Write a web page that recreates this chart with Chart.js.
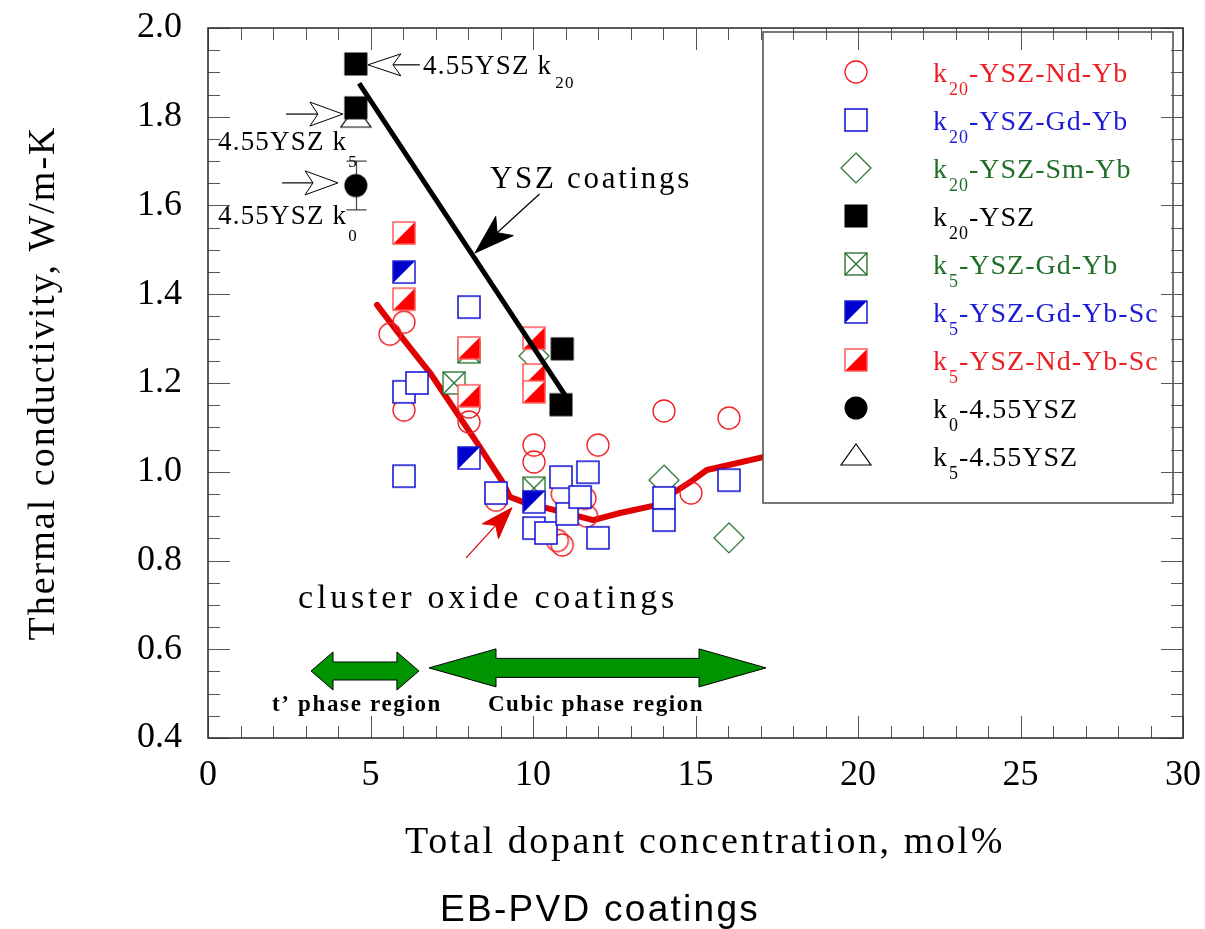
<!DOCTYPE html>
<html>
<head>
<meta charset="utf-8">
<script src="https://cdn.jsdelivr.net/npm/chart.js@4/dist/chart.umd.min.js"></script>
<style>
  html, body { margin: 0; padding: 0; background: #fff; }
  canvas { display: block; }
</style>
</head>
<body>
<canvas id="chart" width="1205" height="929"></canvas>
<script>
// ---- data ----
const ndYbX = [5.6, 6.03, 6.03, 8.03, 8.03, 8.86, 10.03, 10.03, 10.75, 10.9, 10.9, 11.6, 11.65, 12.0, 14.03, 16.03, 14.86];
const ndYbY = [1.31, 1.337, 1.139, 1.146, 1.112, 0.936, 1.06, 1.022, 0.845, 0.835, 0.95, 0.94, 0.90, 1.06, 1.137, 1.121, 0.952];

const gdYbX = [6.03, 6.43, 6.03, 8.03, 8.86, 10.03, 10.4, 10.86, 11.69, 11.05, 11.45, 12.0, 14.03, 14.03, 16.03];
const gdYbY = [1.18, 1.20, 0.99, 1.371, 0.952, 0.873, 0.862, 0.988, 0.999, 0.905, 0.943, 0.851, 0.941, 0.891, 0.981];

const smYbX = [10.03, 14.03, 16.03];
const smYbY = [1.261, 0.981, 0.851];

const yszX = [4.55, 4.55, 10.9, 10.86];
const yszY = [1.919, 1.82, 1.277, 1.151];

const k5GdYbX = [8.03, 7.57, 10.03];
const k5GdYbY = [1.27, 1.20, 0.963];

const k5GdYbScX = [6.03, 8.03, 10.03];
const k5GdYbScY = [1.45, 1.031, 0.932];

const k5NdYbScX = [6.03, 6.03, 8.03, 8.03, 10.03, 10.03, 10.03];
const k5NdYbScY = [1.538, 1.389, 1.279, 1.171, 1.301, 1.218, 1.18];

const k0X = [4.55];
const k0Y = [1.645];
const k0Err = [0.055];

const k5X = [4.55];
const k5Y = [1.797];

// trend lines
const clusterX = [5.2, 5.91, 6.83, 7.6, 8.28, 9.08, 9.29, 9.69, 11.85, 12.68, 13.69, 14.92, 15.35, 17.08];
const clusterY = [1.376, 1.308, 1.223, 1.139, 1.065, 0.975, 0.943, 0.932, 0.891, 0.907, 0.923, 0.981, 1.004, 1.033];
const yszLineX = [4.65, 10.98];
const yszLineY = [1.875, 1.173];

const xTicks = [0, 5, 10, 15, 20, 25, 30];
const yTicks = [0.4, 0.6, 0.8, 1.0, 1.2, 1.4, 1.6, 1.8, 2.0];

// ---- styling ----
const RED = '#ee1d23';
const RED_EDGE = '#ff5a5a';
const BLUE = '#1b1bd6';
const GREEN = '#1f6f2b';
const SERIF = '"Liberation Serif", "Times New Roman", serif';

const pts = (xs, ys) => xs.map((x, i) => ({ x: x, y: ys[i] }));

function marker(draw) {
    const c = document.createElement('canvas');
    c.width = 34;
    c.height = 34;
    const g = c.getContext('2d');
    g.translate(17, 17);
    draw(g);
    return c;
}

const mkCircle = marker(g => {
    g.beginPath(); g.arc(0, 0, 11, 0, Math.PI * 2);
    g.strokeStyle = RED; g.lineWidth = 1.3; g.stroke();
});
const mkSquare = marker(g => {
    g.fillStyle = '#fff'; g.fillRect(-11, -11, 22, 22);
    g.strokeStyle = BLUE; g.lineWidth = 1.6; g.strokeRect(-11, -11, 22, 22);
});
const mkDiamond = marker(g => {
    g.beginPath(); g.moveTo(0, -15); g.lineTo(15, 0); g.lineTo(0, 15); g.lineTo(-15, 0); g.closePath();
    g.fillStyle = '#fff'; g.fill();
    g.strokeStyle = GREEN; g.lineWidth = 1.2; g.stroke();
});
const mkFilledSq = marker(g => {
    g.fillStyle = '#000'; g.fillRect(-11.5, -11.5, 23, 23);
});
const mkCrossed = marker(g => {
    g.fillStyle = '#fff'; g.fillRect(-11, -11, 22, 22);
    g.strokeStyle = GREEN; g.lineWidth = 1.3;
    g.strokeRect(-11, -11, 22, 22);
    g.beginPath(); g.moveTo(-11, -11); g.lineTo(11, 11); g.moveTo(11, -11); g.lineTo(-11, 11); g.stroke();
});
const mkBlueHalf = marker(g => {
    g.fillStyle = '#fff'; g.fillRect(-11, -11, 22, 22);
    g.beginPath(); g.moveTo(-11, -11); g.lineTo(11, -11); g.lineTo(-11, 11); g.closePath();
    g.fillStyle = '#0000cc'; g.fill();
    g.strokeStyle = BLUE; g.lineWidth = 1.5; g.strokeRect(-11, -11, 22, 22);
});
const mkRedHalf = marker(g => {
    g.fillStyle = '#fff'; g.fillRect(-11, -11, 22, 22);
    g.beginPath(); g.moveTo(11, -11); g.lineTo(11, 11); g.lineTo(-11, 11); g.closePath();
    g.fillStyle = '#ff0000'; g.fill();
    g.strokeStyle = RED_EDGE; g.lineWidth = 1.5; g.strokeRect(-11, -11, 22, 22);
});
const mkDot = marker(g => {
    g.beginPath(); g.arc(0, 0, 11.5, 0, Math.PI * 2);
    g.fillStyle = '#000'; g.fill();
});
const mkTriangle = marker(g => {
    g.beginPath(); g.moveTo(0, -12); g.lineTo(15, 9); g.lineTo(-15, 9); g.closePath();
    g.fillStyle = '#fff'; g.fill();
    g.strokeStyle = '#000'; g.lineWidth = 1.2; g.stroke();
});

function scatterSet(label, xs, ys, style, color, order) {
    return {
        label: label,
        data: pts(xs, ys),
        pointStyle: style,
        pointRadius: 10,
        borderColor: color,
        backgroundColor: color,
        showLine: false,
        order: order
    };
}

const datasets = [
    scatterSet('k20-YSZ-Nd-Yb', ndYbX, ndYbY, mkCircle, RED, 7),
    scatterSet('k20-YSZ-Gd-Yb', gdYbX, gdYbY, mkSquare, BLUE, 5),
    scatterSet('k20-YSZ-Sm-Yb', smYbX, smYbY, mkDiamond, GREEN, 6),
    scatterSet('k20-YSZ', yszX, yszY, mkFilledSq, '#000', 0),
    scatterSet('k5-YSZ-Gd-Yb', k5GdYbX, k5GdYbY, mkCrossed, GREEN, 4),
    scatterSet('k5-YSZ-Gd-Yb-Sc', k5GdYbScX, k5GdYbScY, mkBlueHalf, BLUE, 2),
    scatterSet('k5-YSZ-Nd-Yb-Sc', k5NdYbScX, k5NdYbScY, mkRedHalf, RED, 3),
    scatterSet('k0-4.55YSZ', k0X, k0Y, mkDot, '#000', 1),
    scatterSet('k5-4.55YSZ', k5X, k5Y, mkTriangle, '#000', 0),
    {
        label: 'cluster trend',
        data: pts(clusterX, clusterY),
        showLine: true, pointRadius: 0,
        borderColor: '#e00000', borderWidth: 6,
        borderCapStyle: 'round', borderJoinStyle: 'round',
        order: 9
    },
    {
        label: 'YSZ trend',
        data: pts(yszLineX, yszLineY),
        showLine: true, pointRadius: 0,
        borderColor: '#000', borderWidth: 5,
        order: 1
    }
];
const legendSets = datasets.slice(0, 9);

// ---- drawing helpers ----
function spacedText(ctx, str, x, y, font, color, target, align) {
    ctx.save();
    ctx.font = font;
    ctx.fillStyle = color;
    ctx.textBaseline = 'alphabetic';
    ctx.textAlign = 'left';
    ctx.letterSpacing = '0px';
    const w = ctx.measureText(str).width;
    if (target) ctx.letterSpacing = ((target - w) / str.length).toFixed(2) + 'px';
    const width = target || w;
    const x0 = align === 'center' ? x - width / 2 : x;
    ctx.fillText(str, x0, y);
    ctx.restore();
}

// main text, then a lowered subscript, then the rest
function subText(ctx, x, y, main, sub, rest, size, subSize, dy, gap, color, spacing) {
    ctx.save();
    ctx.fillStyle = color;
    ctx.textBaseline = 'alphabetic';
    ctx.textAlign = 'left';
    ctx.letterSpacing = spacing + 'px';
    ctx.font = size + 'px ' + SERIF;
    ctx.fillText(main, x, y);
    x += ctx.measureText(main).width + gap;
    ctx.font = subSize + 'px ' + SERIF;
    ctx.fillText(sub, x, y + dy);
    x += ctx.measureText(sub).width;
    if (rest) {
        ctx.font = size + 'px ' + SERIF;
        ctx.fillText(rest, x, y);
    }
    ctx.restore();
}

function arrowHead(ctx, tail, tip, len, half, notch, fill, stroke) {
    const dx = tip[0] - tail[0], dy = tip[1] - tail[1];
    const d = Math.hypot(dx, dy);
    const ux = dx / d, uy = dy / d, nx = -uy, ny = ux;
    const bx = tip[0] - ux * len, by = tip[1] - uy * len;
    const mx = tip[0] - ux * (len - notch), my = tip[1] - uy * (len - notch);
    ctx.beginPath();
    ctx.moveTo(tail[0], tail[1]);
    ctx.lineTo(mx, my);
    ctx.strokeStyle = stroke; ctx.lineWidth = 1.2; ctx.stroke();
    ctx.beginPath();
    ctx.moveTo(tip[0], tip[1]);
    ctx.lineTo(bx + nx * half, by + ny * half);
    ctx.lineTo(mx, my);
    ctx.lineTo(bx - nx * half, by - ny * half);
    ctx.closePath();
    ctx.fillStyle = fill; ctx.fill();
    ctx.strokeStyle = stroke; ctx.lineWidth = 1; ctx.stroke();
}

function doubleArrow(ctx, x1, x2, cy, shaft, head, len) {
    ctx.beginPath();
    ctx.moveTo(x1, cy);
    ctx.lineTo(x1 + len, cy - head);
    ctx.lineTo(x1 + len, cy - shaft);
    ctx.lineTo(x2 - len, cy - shaft);
    ctx.lineTo(x2 - len, cy - head);
    ctx.lineTo(x2, cy);
    ctx.lineTo(x2 - len, cy + head);
    ctx.lineTo(x2 - len, cy + shaft);
    ctx.lineTo(x1 + len, cy + shaft);
    ctx.lineTo(x1 + len, cy + head);
    ctx.closePath();
    ctx.fillStyle = '#009400'; ctx.fill();
    ctx.strokeStyle = '#000'; ctx.lineWidth = 1; ctx.stroke();
}

const decor = {
    id: 'decor',
    beforeDatasetsDraw(chart) {
        const ctx = chart.ctx, xs = chart.scales.x, ys = chart.scales.y;
        ctx.save();
        ctx.strokeStyle = '#444'; ctx.lineWidth = 1.2;
        k0X.forEach((x, i) => {
            const px = Math.round(xs.getPixelForValue(x)) + 0.5;
            const t = ys.getPixelForValue(k0Y[i] + k0Err[i]);
            const b = ys.getPixelForValue(k0Y[i] - k0Err[i]);
            ctx.beginPath();
            ctx.moveTo(px, t); ctx.lineTo(px, b);
            ctx.moveTo(px - 10, t); ctx.lineTo(px + 10, t);
            ctx.moveTo(px - 10, b); ctx.lineTo(px + 10, b);
            ctx.stroke();
        });
        ctx.restore();
    },
    afterDatasetsDraw(chart) {
        const ctx = chart.ctx, xs = chart.scales.x, ys = chart.scales.y;
        const P = (x, y) => [xs.getPixelForValue(x), ys.getPixelForValue(y)];
        ctx.save();

        // annotations
        arrowHead(ctx, P(6.52, 1.917), P(4.92, 1.917), 33, 11, 8, '#fff', '#000');
        arrowHead(ctx, P(2.40, 1.806), P(4.15, 1.806), 33, 12, 8, '#fff', '#000');
        arrowHead(ctx, P(2.28, 1.651), P(4.00, 1.651), 33, 12, 8, '#fff', '#000');
        arrowHead(ctx, P(10.2, 1.626), P(8.215, 1.493), 40, 13, 10, '#000', '#000');
        arrowHead(ctx, P(7.94, 0.806), P(9.354, 0.919), 32, 11, 8, '#e00000', '#e00000');

        let p = P(6.615, 1.896);
        subText(ctx, p[0], p[1], '4.55YSZ k', '20', '', 27, 17, 14, 3, '#000', 1.2);
        p = P(0.308, 1.725);
        subText(ctx, p[0], p[1], '4.55YSZ k', '5', '', 27, 17, 17, 1, '#000', 1.2);
        p = P(0.308, 1.558);
        subText(ctx, p[0], p[1], '4.55YSZ k', '0', '', 27, 17, 17, 1, '#000', 1.2);

        p = P(8.677, 1.639);
        spacedText(ctx, 'YSZ coatings', p[0], p[1], '31px ' + SERIF, '#000', 202);
        p = P(2.77, 0.693);
        spacedText(ctx, 'cluster oxide coatings', p[0], p[1], '34px ' + SERIF, '#000', 380);

        const a1 = P(3.17, 0.551), a2 = P(6.49, 0.551);
        doubleArrow(ctx, a1[0], a2[0], a1[1], 9, 19, 22);
        const b1 = P(6.8, 0.558), b2 = P(17.17, 0.558);
        doubleArrow(ctx, b1[0], b2[0], b1[1], 9.5, 19, 67);

        p = P(1.97, 0.461);
        spacedText(ctx, 't\u2019 phase region', p[0], p[1], 'bold 23px ' + SERIF, '#000', 170);
        p = P(8.615, 0.461);
        spacedText(ctx, 'Cubic phase region', p[0], p[1], 'bold 23px ' + SERIF, '#000', 216);

        // legend box
        ctx.fillStyle = '#fff';
        ctx.fillRect(763, 32, 410, 471);
        ctx.strokeStyle = '#555'; ctx.lineWidth = 1.6;
        ctx.strokeRect(763, 32, 410, 471);
        legendSets.forEach((ds, i) => {
            const cy = 72 + i * 48;
            const img = ds.pointStyle;
            ctx.drawImage(img, 856 - img.width / 2, cy - img.height / 2);
            const m = ds.label.match(/^k(\d+)(.*)$/);
            subText(ctx, 933, cy + 10, 'k', m[1], m[2], 28, 18, 13, 1, ds.borderColor, 1);
        });
        ctx.restore();
    },
    afterDraw(chart) {
        const ctx = chart.ctx, a = chart.chartArea, xs = chart.scales.x, ys = chart.scales.y;
        ctx.save();
        // ticks, inward on all four sides
        ctx.strokeStyle = '#555'; ctx.lineWidth = 1;
        ctx.beginPath();
        for (let v = 0; v <= 30; v += 1) {
            const px = Math.round(xs.getPixelForValue(v)) + 0.5;
            const len = v % 5 === 0 ? 22 : 12;
            ctx.moveTo(px, a.bottom); ctx.lineTo(px, a.bottom - len);
            ctx.moveTo(px, a.top); ctx.lineTo(px, a.top + len);
        }
        for (let k = 0; k <= 32; k++) {
            const v = 0.4 + k * 0.05;
            const py = Math.round(ys.getPixelForValue(v)) + 0.5;
            const len = k % 4 === 0 ? 22 : 12;
            ctx.moveTo(a.left, py); ctx.lineTo(a.left + len, py);
            ctx.moveTo(a.right, py); ctx.lineTo(a.right - len, py);
        }
        ctx.stroke();
        ctx.strokeStyle = '#333'; ctx.lineWidth = 1.6;
        ctx.strokeRect(a.left, a.top, a.right - a.left, a.bottom - a.top);

        // axis titles
        spacedText(ctx, 'Total dopant concentration, mol%', 705, 853, '38px ' + SERIF, '#000', 600, 'center');
        spacedText(ctx, 'EB-PVD coatings', 600, 921, '37px "Liberation Sans", Arial, sans-serif', '#000', 320, 'center');
        ctx.translate(54, 383);
        ctx.rotate(-Math.PI / 2);
        spacedText(ctx, 'Thermal conductivity, W/m-K', 0, 0, '38px ' + SERIF, '#000', 515, 'center');
        ctx.restore();
    }
};

new Chart(document.getElementById('chart').getContext('2d'), {
    type: 'scatter',
    data: { datasets: datasets },
    options: {
        responsive: false,
        animation: false,
        devicePixelRatio: 1,
        events: [],
        layout: { padding: { top: 28, right: 22, left: 0, bottom: 0 } },
        plugins: {
            legend: { display: false },
            tooltip: { enabled: false }
        },
        scales: {
            x: {
                type: 'linear', min: 0, max: 30,
                afterFit: s => { s.height = 191; s.paddingLeft = 0; s.paddingRight = 0; },
                afterBuildTicks: s => { s.ticks = xTicks.map(v => ({ value: v })); },
                grid: { display: false, drawTicks: false },
                border: { display: false },
                ticks: {
                    padding: 16, maxRotation: 0, color: '#000',
                    font: { family: 'Liberation Serif', size: 36 }
                }
            },
            y: {
                type: 'linear', min: 0.4, max: 2.0,
                afterFit: s => { s.width = 208; s.paddingTop = 0; s.paddingBottom = 0; },
                afterBuildTicks: s => { s.ticks = yTicks.map(v => ({ value: v })); },
                grid: { display: false, drawTicks: false },
                border: { display: false },
                ticks: {
                    padding: 26, color: '#000',
                    font: { family: 'Liberation Serif', size: 36 },
                    callback: v => v.toFixed(1)
                }
            }
        }
    },
    plugins: [decor]
});
</script>
</body>
</html>
